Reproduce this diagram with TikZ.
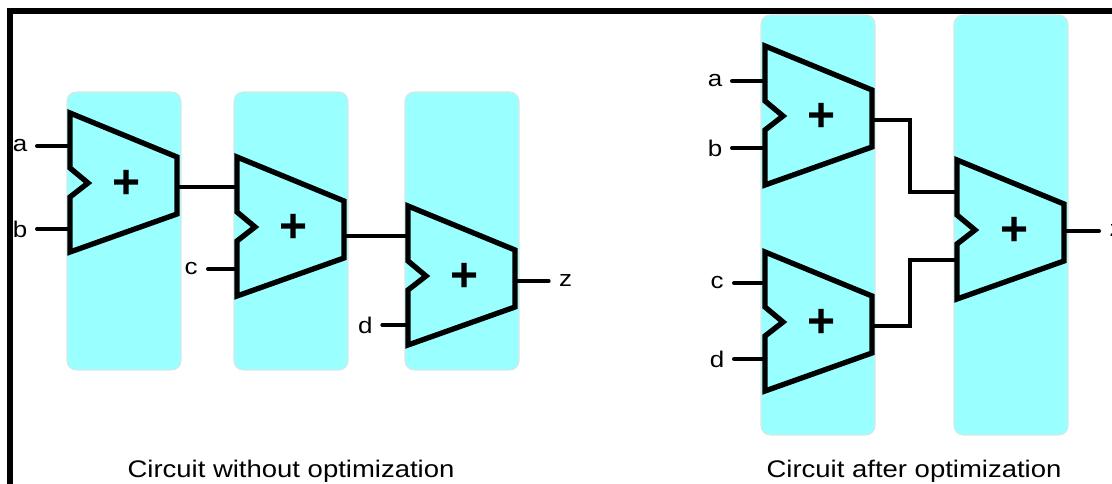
\documentclass[tikz,border=0pt]{standalone}
\usepackage{fontspec}
\setmainfont{Liberation Sans}
\definecolor{panelcyan}{HTML}{99FFFF}
\definecolor{paneledge}{HTML}{D5E8E8}
\newcommand{\wide}[1]{\scalebox{1.145}[1]{#1}}
\tikzstyle{panel} = [rectangle, draw=paneledge, fill=panelcyan, line width=0.8pt,
    rounded corners=7pt, minimum width=85.5pt]
\tikzstyle{line} = [draw, black, line width=2.9pt, line cap=round]
\tikzstyle{wire} = [draw, black, line width=2.9pt, line join=miter]
\tikzstyle{sig} = [inner sep=0pt, minimum width=25pt, font=\fontsize{17}{17}\selectfont]
\tikzstyle{caption} = [inner sep=0pt, font=\fontsize{18}{20}\selectfont]
\tikzset{
  pics/adder/.style n args={3}{code={
    \coordinate (in1) at (0,#1);
    \coordinate (in2) at (0,#2);
    \coordinate (out) at (107,#3);
    \path [draw, fill=panelcyan, line width=4pt, line join=miter]
      (0,0) -- (107,44) -- (107,101) -- (0,139) -- (0,84) -- (18,70) -- (0,55) -- cycle;
    \node [font=\fontsize{36}{36}\selectfont\bfseries, inner sep=0pt] (sum) at (57,71) {+};
  }}
}

\begin{document}
\begin{tikzpicture}[x=0.75pt, y=-0.75pt]
   \useasboundingbox (0,0) rectangle (1112,484);
   % Frame
    \draw [line width=4.6pt, black] (10,484) -- (10,11) -- (1112,11);
   % Place panels
    \node [panel, minimum height=208.5pt] (slotA) at (124,231) {};
    \node [panel, minimum height=208.5pt] (slotB) at (291,231) {};
    \node [panel, minimum height=208.5pt] (slotC) at (462,231) {};
    \node [panel, minimum height=315pt] (slotD) at (818,225) {};
    \node [panel, minimum height=315pt] (slotE) at (1011,225) {};
   % Place adders
    \pic (addA) at (70,113) {adder={33}{116}{74}};
    \pic (addB) at (237,157) {adder={30}{112}{79}};
    \pic (addC) at (408,206) {adder={30}{119}{75}};
    \pic (addD) at (765,46) {adder={35}{102}{74}};
    \pic (addE) at (765,252) {adder={31}{107}{74}};
    \pic (addF) at (957,160) {adder={32}{100}{71}};
   % Place labels
    \node [sig, left of=addAin1, node distance=37.5pt] (a1) {\wide{a}};
    \node [sig, left of=addAin2, node distance=37.5pt] (b1) {\wide{b}};
    \node [sig, left of=addBin2, node distance=34.5pt] (c1) {\wide{c}};
    \node [sig, left of=addCin2, node distance=32pt] (d1) {\wide{d}};
    \node [sig, right of=addCout, node distance=38pt] (z1) {\wide{z}};
    \node [sig, left of=addDin1, node distance=37.5pt] (a2) {\wide{a}};
    \node [sig, left of=addDin2, node distance=37.5pt] (b2) {\wide{b}};
    \node [sig, left of=addEin1, node distance=36pt] (c2) {\wide{c}};
    \node [sig, left of=addEin2, node distance=36pt] (d2) {\wide{d}};
    \node [sig, right of=addFout, node distance=39pt] (z2) {\wide{z}};
    \node [caption] (capA) at (291,471) {\wide{Circuit without optimization}};
    \node [caption] (capB) at (914,471) {\wide{Circuit after optimization}};
   % Draw edges
    \path [line] (a1) -- (addAin1);
    \path [line] (b1) -- (addAin2);
    \path [line] (c1) -- (addBin2);
    \path [line] (d1) -- (addCin2);
    \path [line] (addAout) -- (addAout -| addBin1);
    \path [line] (addBout) -- (addBout -| addCin1);
    \path [line] (addCout) -- (z1);
    \path [line] (a2) -- (addDin1);
    \path [line] (b2) -- (addDin2);
    \path [line] (c2) -- (addEin1);
    \path [line] (d2) -- (addEin2);
    \path [wire] (addDout) -- ++(38,0) |- (addFin1);
    \path [wire] (addEout) -- ++(38,0) |- (addFin2);
    \path [line] (addFout) -- (z2);
  \end{tikzpicture}
\end{document}
